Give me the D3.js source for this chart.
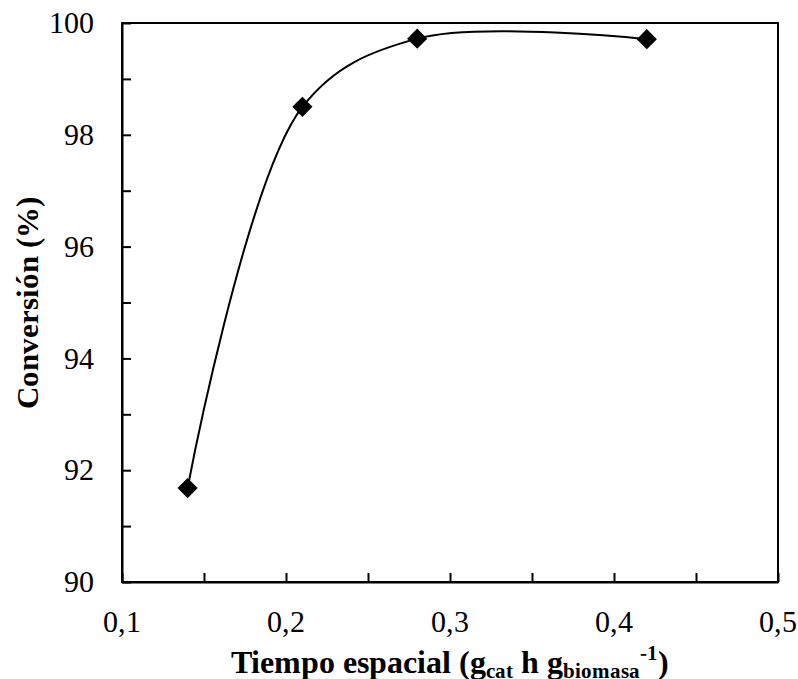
<!DOCTYPE html>
<html>
<head>
<meta charset="utf-8">
<script src="https://cdn.jsdelivr.net/npm/d3@7"></script>
<style>
  @font-face { font-family: "TimesLocal"; font-weight: 400;
               src: local("Liberation Serif"), local("LiberationSerif"), local("LiberationSerif-Regular"); }
  @font-face { font-family: "TimesLocal"; font-weight: 700;
               src: local("Liberation Serif Bold"), local("LiberationSerif-Bold"); }
  html body svg text, html body svg tspan {
    font-family: "TimesLocal", "Liberation Serif", "Times New Roman", Times, serif !important;
  }
</style>
</head>
<body style="margin:0">
<script>
// data
let tiempo = [0.14, 0.21, 0.28, 0.42];
let conversion = [91.68, 98.5, 99.72, 99.71];
let xTicks = [0.1, 0.2, 0.3, 0.4, 0.5];
let yTicks = [90, 92, 94, 96, 98, 100];

let W = 798, H = 679;
let margins = {l: 122, r: 20, t: 23, b: 97};

let svg = d3.select("body").append("svg")
            .attr("width", W)
            .attr("height", H)
            .style("display", "block");

let xScale = d3.scaleLinear().domain([0.1, 0.5]).range([margins.l, W - margins.r]);
let yScale = d3.scaleLinear().domain([90, 100]).range([H - margins.b, margins.t]);

let fmt = d => d3.format(".1f")(d).replace(".", ",");

// frame
svg.append("rect")
   .attr("x", xScale(0.1)).attr("y", yScale(100))
   .attr("width", xScale(0.5) - xScale(0.1))
   .attr("height", yScale(90) - yScale(100))
   .attr("fill", "none").attr("stroke", "#000").attr("stroke-width", 2);

// x axis: ticks inside every 0.05
let xAxis = d3.axisBottom(xScale)
              .tickValues(d3.range(0.1, 0.5001, 0.05))
              .tickSizeInner(-9).tickSizeOuter(0)
              .tickFormat("");
let gx = svg.append("g").attr("transform", `translate(0,${yScale(90)})`).call(xAxis);
gx.select(".domain").attr("stroke-width", 2);
gx.selectAll(".tick line").attr("stroke-width", 2);

svg.append("g").selectAll("text").data(xTicks).join("text")
   .attr("x", d => xScale(d)).attr("y", yScale(90) + 50)
   .attr("text-anchor", "middle")
   .attr("font-size", 30)
   .text(fmt);

// y axis: ticks inside every 1
let yAxis = d3.axisLeft(yScale)
              .tickValues(d3.range(90, 100.001, 1))
              .tickSizeInner(-9).tickSizeOuter(0)
              .tickFormat("");
let gy = svg.append("g").attr("transform", `translate(${xScale(0.1)},0)`).call(yAxis);
gy.select(".domain").attr("stroke-width", 2);
gy.selectAll(".tick line").attr("stroke-width", 2);

svg.append("g").selectAll("text").data(yTicks).join("text")
   .attr("x", xScale(0.1) - 28).attr("y", d => yScale(d))
   .attr("dy", "0.34em")
   .attr("text-anchor", "end")
   .attr("font-size", 30)
   .text(d => d);

// smoothed line
let pts = tiempo.map((t, i) => [t, conversion[i]]);
let line = d3.line()
             .x(d => xScale(d[0]))
             .y(d => yScale(d[1]))
             .curve(d3.curveCatmullRom.alpha(0.5));
svg.append("path").datum(pts)
   .attr("d", line)
   .attr("fill", "none").attr("stroke", "#000").attr("stroke-width", 2);

// diamond markers
let diamond = d3.symbol().type(d3.symbolDiamond2).size(260);
svg.append("g").selectAll("path").data(pts).join("path")
   .attr("transform", d => `translate(${xScale(d[0])},${yScale(d[1])})`)
   .attr("d", diamond)
   .attr("fill", "#000");

// axis titles
let xt = svg.append("text")
            .attr("x", (xScale(0.1) + xScale(0.5)) / 2)
            .attr("y", 673)
            .attr("text-anchor", "middle")
            .attr("font-size", 32).attr("font-weight", "bold");
xt.append("tspan").text("Tiempo espacial (g");
xt.append("tspan").attr("font-size", 21).attr("dy", 5).text("cat");
xt.append("tspan").attr("dy", -5).text(" h g");
xt.append("tspan").attr("font-size", 21).attr("dy", 5).text("biomasa");
xt.append("tspan").attr("font-size", 21).attr("dy", -18).text("-1");
xt.append("tspan").attr("dy", 13).text(")");

svg.append("text")
   .attr("transform", `translate(38,${(yScale(90) + yScale(100)) / 2}) rotate(-90)`)
   .attr("text-anchor", "middle")
   .attr("font-size", 31).attr("font-weight", "bold")
   .text("Conversi\u00f3n (%)");
</script>
</body>
</html>
